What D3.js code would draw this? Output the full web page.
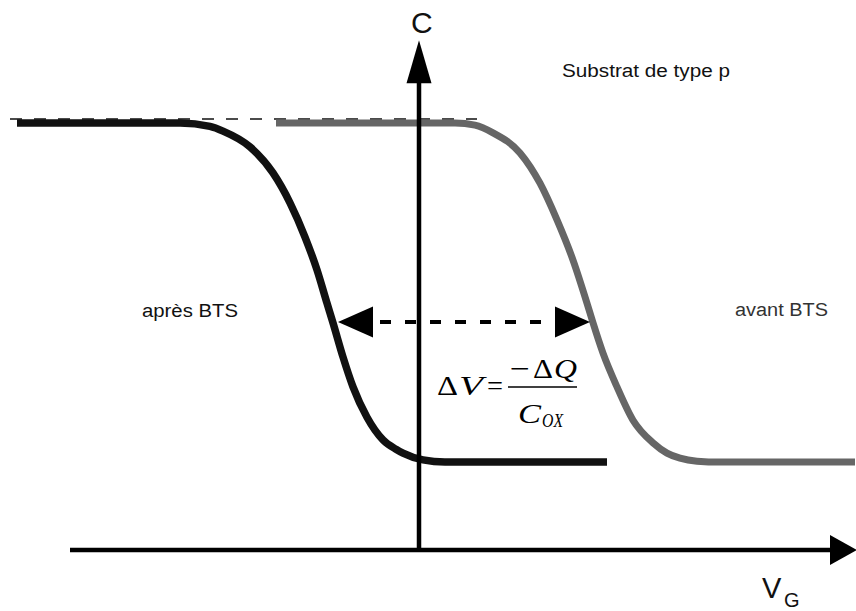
<!DOCTYPE html>
<html>
<head>
<meta charset="utf-8">
<script src="https://cdn.jsdelivr.net/npm/d3@7"></script>
<style>
  body { margin: 0; background: #fff; }
  svg { display: block; }
  .sans { font-family: Arial, "Liberation Sans", sans-serif; }
  .serif { font-family: "Times New Roman", "Liberation Serif", serif; }
</style>
</head>
<body>
<div id="chart"></div>
<script>
// C-V curves, before / after BTS (V_G in volts, C normalised to Cmax)
var apresV = [-4.02, -2.39, -2.09, -1.96, -1.69, -1.46, -1.29, -1.14, -1.02, -0.92, -0.86, -0.76, -0.66, -0.52, -0.36, -0.23, -0.16, 0.04, 0.26, 1.88];
var apresC = [1.0, 1.0, 0.992, 0.981, 0.944, 0.883, 0.813, 0.733, 0.656, 0.578, 0.532, 0.452, 0.382, 0.311, 0.258, 0.236, 0.227, 0.211, 0.206, 0.206];

var avantV = [-1.43, 0.36, 0.56, 0.74, 1.01, 1.21, 1.38, 1.54, 1.68, 1.74, 1.84, 1.98, 2.14, 2.34, 2.48, 2.61, 2.78, 3.01, 4.36];
var avantC = [1.0, 1.0, 0.995, 0.977, 0.930, 0.859, 0.773, 0.679, 0.578, 0.532, 0.461, 0.382, 0.304, 0.251, 0.227, 0.215, 0.208, 0.206, 0.206];

// Cmax reference (dashed), shift arrow, axis extents
var cmaxLineV = [-4.09, 0.58];
var cmaxLineC = 1.0;
var shiftArrowV = [-0.81, 1.71];
var shiftArrowC = 0.534;
var axisV = [-3.49, 4.38];
var axisC = [0, 1.194];

var labels = {
  c: "C", vg: "V", vgSub: "G",
  substrat: "Substrat de type p",
  apres: "après BTS", avant: "avant BTS"
};

var width = 856, height = 611;

var svg = d3.select("#chart").append("svg")
  .attr("width", width)
  .attr("height", height);

var x = d3.scaleLinear().domain([-4, 4]).range([19, 819]);
var y = d3.scaleLinear().domain([0, 1]).range([550, 123]);

var line = d3.line()
  .x(function (d) { return x(d[0]); })
  .y(function (d) { return y(d[1]); })
  .curve(d3.curveMonotoneX);

// dashed Cmax line
svg.append("line")
  .attr("x1", x(cmaxLineV[0])).attr("x2", x(cmaxLineV[1]))
  .attr("y1", y(cmaxLineC) - 4).attr("y2", y(cmaxLineC) - 4)
  .attr("stroke", "#111")
  .attr("stroke-width", 1.4)
  .attr("stroke-dasharray", "12,12");

// curves
svg.append("path")
  .datum(d3.zip(avantV, avantC))
  .attr("d", line)
  .attr("fill", "none")
  .attr("stroke", "#666")
  .attr("stroke-width", 7);

svg.append("path")
  .datum(d3.zip(apresV, apresC))
  .attr("d", line)
  .attr("fill", "none")
  .attr("stroke", "#111")
  .attr("stroke-width", 7.5);

// axes
var x0 = x(0), y0 = y(0);

svg.append("line")
  .attr("x1", x(axisV[0])).attr("x2", x(axisV[1]) - 20)
  .attr("y1", y0).attr("y2", y0)
  .attr("stroke", "#000").attr("stroke-width", 4.5);

svg.append("line")
  .attr("x1", x0).attr("x2", x0)
  .attr("y1", y(axisC[0])).attr("y2", y(axisC[1]) + 20)
  .attr("stroke", "#000").attr("stroke-width", 4.5);

var arrowHead = function (tx, ty, dx, dy, len, half) {
  // tip at (tx,ty), pointing along (dx,dy)
  var bx = tx - dx * len, by = ty - dy * len;
  var px = -dy * half, py = dx * half;
  return "M" + tx + "," + ty + "L" + (bx + px) + "," + (by + py) + "L" + (bx - px) + "," + (by - py) + "Z";
};

svg.append("path")
  .attr("d", arrowHead(x(axisV[1]), y0, 1, 0, 27, 15))
  .attr("fill", "#000");

svg.append("path")
  .attr("d", arrowHead(x0, y(axisC[1]), 0, -1, 43, 12.5))
  .attr("fill", "#000");

// shift arrow
var ay = y(shiftArrowC);
var lx = x(shiftArrowV[0]), rx = x(shiftArrowV[1]);

svg.append("line")
  .attr("x1", lx + 42).attr("x2", rx - 35)
  .attr("y1", ay).attr("y2", ay)
  .attr("stroke", "#000")
  .attr("stroke-width", 4)
  .attr("stroke-dasharray", "11,14");

svg.append("path")
  .attr("d", arrowHead(lx, ay, -1, 0, 35, 15.5))
  .attr("fill", "#000");

svg.append("path")
  .attr("d", arrowHead(rx, ay, 1, 0, 35, 15.5))
  .attr("fill", "#000");

// labels
svg.append("text").attr("class", "sans")
  .attr("x", 411).attr("y", 33)
  .style("font-size", "30px").attr("fill", "#111")
  .text(labels.c);

svg.append("text").attr("class", "sans")
  .attr("x", 762).attr("y", 598)
  .style("font-size", "29px").attr("fill", "#111")
  .text(labels.vg);

svg.append("text").attr("class", "sans")
  .attr("x", 784).attr("y", 607)
  .style("font-size", "20px").attr("fill", "#111")
  .text(labels.vgSub);

var sideText = function (txt, tx, ty, len, col) {
  svg.append("text").attr("class", "sans")
    .attr("x", tx).attr("y", ty)
    .attr("textLength", len).attr("lengthAdjust", "spacingAndGlyphs")
    .style("font-size", "18px").attr("fill", col)
    .text(txt);
};

sideText(labels.substrat, 562, 77, 168, "#111");
sideText(labels.apres, 142, 317, 96, "#111");
sideText(labels.avant, 735, 316, 93, "#333");

// formula  dV = -dQ / Cox
var glyph = function (txt, tx, ty, len, size, italic) {
  svg.append("text").attr("class", "serif")
    .attr("x", tx).attr("y", ty)
    .attr("textLength", len).attr("lengthAdjust", "spacingAndGlyphs")
    .style("font-size", size + "px")
    .style("font-style", italic ? "italic" : "normal")
    .attr("fill", "#000")
    .text(txt);
};

glyph("\u0394", 437, 395, 21, 28, false);
glyph("V", 459, 395, 24, 28, true);
glyph("=", 487, 395, 16, 28, false);
glyph("\u2212", 510, 378, 20, 28, false);
glyph("\u0394", 533, 378, 20, 28, false);
glyph("Q", 554, 378, 23, 28, true);
glyph("C", 518, 423, 23, 28, true);
glyph("OX", 542, 427, 21, 19, true);

svg.append("line")
  .attr("x1", 508).attr("x2", 577)
  .attr("y1", 387).attr("y2", 387)
  .attr("stroke", "#000").attr("stroke-width", 1.6);
</script>
</body>
</html>
